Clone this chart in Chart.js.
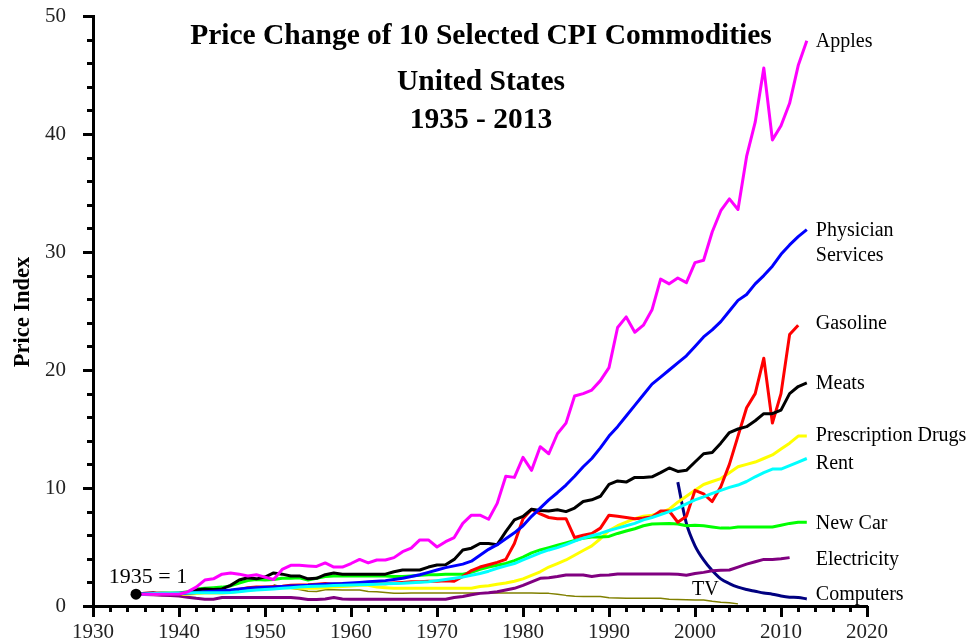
<!DOCTYPE html>
<html>
<head>
<meta charset="utf-8">
<title>Price Change of 10 Selected CPI Commodities</title>
<script src="https://cdn.jsdelivr.net/npm/chart.js@4.4.1/dist/chart.umd.min.js"></script>
<style>
  html, body { margin: 0; padding: 0; background: #fff; }
  #wrap { width: 976px; height: 643px; }
</style>
</head>
<body>
<div id="wrap"><canvas id="cpiChart" width="976" height="643"></canvas></div>
<script>
// yearly price index, 1935 = 1
const years = Array.from({ length: 79 }, (_, i) => 1935 + i);

const apples = [1, 1, 1, 1, 1, 1, 1.2, 1.6, 2.2, 2.3,
  2.7, 2.8, 2.7, 2.55, 2.65, 2.45, 2.25, 3.1, 3.45, 3.45,
  3.4, 3.35, 3.65, 3.3, 3.3, 3.6, 3.95, 3.65, 3.9, 3.9,
  4.1, 4.6, 4.9, 5.6, 5.6, 5.0, 5.45, 5.8, 7.0, 7.7,
  7.7, 7.35, 8.7, 11.0, 10.9, 12.6, 11.5, 13.5, 12.9, 14.6,
  15.5, 17.8, 18.0, 18.3, 19.1, 20.2, 23.6, 24.5, 23.2, 23.8,
  25.1, 27.7, 27.3, 27.8, 27.4, 29.1, 29.3, 31.7, 33.5, 34.5,
  33.6, 38.1, 41.0, 45.6, 39.5, 40.7, 42.6, 45.8, 47.9];

const physician = [1.0, 1.02, 1.04, 1.05, 1.06, 1.08, 1.1, 1.15, 1.2, 1.25,
  1.3, 1.35, 1.45, 1.5, 1.55, 1.58, 1.6, 1.65, 1.7, 1.72,
  1.75, 1.8, 1.85, 1.88, 1.9, 1.95, 2.0, 2.05, 2.1, 2.15,
  2.25, 2.35, 2.5, 2.65, 2.85, 3.05, 3.25, 3.4, 3.55, 3.8,
  4.3, 4.8, 5.2, 5.7, 6.2, 6.8, 7.6, 8.3, 9.0, 9.6,
  10.25, 11.0, 11.8, 12.5, 13.4, 14.4, 15.2, 16.1, 17.0, 17.9,
  18.8, 19.4, 20.0, 20.6, 21.2, 22.0, 22.8, 23.4, 24.1, 25.0,
  25.9, 26.4, 27.3, 28.0, 28.8, 29.8, 30.6, 31.3, 31.9];

// 1935 - 2012
const gasoline = [1.0, 1.08, 1.1, 1.08, 1.05, 1.05, 1.1, 1.15, 1.2, 1.2,
  1.2, 1.25, 1.4, 1.55, 1.6, 1.62, 1.65, 1.68, 1.75, 1.78,
  1.8, 1.85, 1.9, 1.85, 1.88, 1.9, 1.9, 1.9, 1.9, 1.88,
  1.95, 2.0, 2.05, 2.05, 2.1, 2.1, 2.15, 2.1, 2.5, 3.0,
  3.3, 3.5, 3.7, 3.95, 5.3, 7.4, 8.2, 7.8, 7.5, 7.4,
  7.4, 5.8, 6.0, 6.15, 6.6, 7.7, 7.6, 7.5, 7.4, 7.45,
  7.55, 8.05, 8.05, 7.1, 7.6, 9.8, 9.5, 8.85, 10.1, 12.0,
  14.4, 16.8, 18.0, 21.0, 15.5, 18.0, 23.0, 23.8];

const meats = [1.0, 1.05, 1.1, 1.0, 1.0, 1.0, 1.15, 1.35, 1.45, 1.4,
  1.45, 1.75, 2.2, 2.4, 2.3, 2.45, 2.8, 2.7, 2.55, 2.55,
  2.3, 2.35, 2.65, 2.8, 2.7, 2.7, 2.7, 2.7, 2.7, 2.7,
  2.9, 3.05, 3.05, 3.05, 3.3, 3.47, 3.5, 3.95, 4.75, 4.9,
  5.3, 5.3, 5.2, 6.3, 7.3, 7.6, 8.2, 8.1, 8.05, 8.15,
  8.0, 8.3, 8.85, 9.0, 9.3, 10.3, 10.6, 10.5, 10.9, 10.9,
  10.95, 11.3, 11.7, 11.4, 11.5, 12.2, 12.9, 13.0, 13.8, 14.7,
  15.0, 15.2, 15.7, 16.3, 16.3, 16.6, 18.0, 18.6, 18.9];

const drugs = [1.0, 1.0, 1.0, 1.0, 1.0, 1.0, 1.0, 1.05, 1.1, 1.1,
  1.1, 1.15, 1.25, 1.35, 1.4, 1.45, 1.55, 1.55, 1.55, 1.5,
  1.5, 1.5, 1.55, 1.6, 1.65, 1.7, 1.75, 1.75, 1.6, 1.55,
  1.5, 1.5, 1.5, 1.5, 1.5, 1.5, 1.5, 1.5, 1.5, 1.5,
  1.65, 1.72, 1.85, 1.95, 2.1, 2.3, 2.6, 2.9, 3.3, 3.6,
  3.9, 4.3, 4.7, 5.1, 5.7, 6.4, 6.8, 7.1, 7.4, 7.6,
  7.7, 7.9, 8.2, 8.8, 9.3, 9.8, 10.3, 10.55, 10.8, 11.3,
  11.8, 12.0, 12.2, 12.5, 12.8, 13.3, 13.8, 14.4, 14.4];

const rent = [1.0, 1.02, 1.05, 1.08, 1.08, 1.08, 1.1, 1.12, 1.12, 1.12,
  1.13, 1.15, 1.2, 1.3, 1.35, 1.4, 1.45, 1.5, 1.55, 1.6,
  1.65, 1.68, 1.7, 1.73, 1.75, 1.78, 1.8, 1.83, 1.85, 1.88,
  1.9, 1.92, 1.97, 2.02, 2.06, 2.15, 2.25, 2.35, 2.45, 2.6,
  2.75, 2.95, 3.2, 3.4, 3.6, 3.9, 4.2, 4.5, 4.75, 4.95,
  5.2, 5.5, 5.75, 5.95, 6.15, 6.4, 6.6, 6.8, 7.0, 7.3,
  7.5, 7.75, 8.0, 8.3, 8.65, 9.0, 9.25, 9.55, 9.8, 10.05,
  10.25, 10.55, 10.95, 11.3, 11.6, 11.6, 11.9, 12.2, 12.5];

const newCar = [1.0, 1.02, 1.05, 1.1, 1.1, 1.1, 1.2, 1.45, 1.5, 1.55,
  1.6, 1.7, 1.95, 2.15, 2.25, 2.2, 2.25, 2.35, 2.35, 2.4,
  2.2, 2.35, 2.5, 2.55, 2.55, 2.55, 2.55, 2.55, 2.55, 2.55,
  2.5, 2.5, 2.55, 2.6, 2.65, 2.65, 2.7, 2.7, 2.7, 2.85,
  3.1, 3.3, 3.45, 3.6, 3.85, 4.15, 4.5, 4.75, 4.95, 5.15,
  5.35, 5.55, 5.75, 5.85, 5.85, 5.9, 6.15, 6.35, 6.55, 6.8,
  6.95, 6.97, 7.0, 6.95, 6.8, 6.85, 6.8, 6.7, 6.6, 6.6,
  6.7, 6.7, 6.7, 6.7, 6.7, 6.85, 7.0, 7.1, 7.1];

// 1935 - 2011
const electricity = [1.0, 0.98, 0.95, 0.92, 0.9, 0.85, 0.75, 0.65, 0.57, 0.57,
  0.72, 0.72, 0.72, 0.72, 0.72, 0.72, 0.72, 0.72, 0.72, 0.65,
  0.55, 0.55, 0.6, 0.72, 0.6, 0.57, 0.57, 0.57, 0.57, 0.57,
  0.57, 0.57, 0.57, 0.57, 0.57, 0.57, 0.57, 0.72, 0.8, 0.95,
  1.07, 1.12, 1.2, 1.35, 1.5, 1.75, 2.05, 2.35, 2.4, 2.5,
  2.62, 2.63, 2.63, 2.5, 2.6, 2.63, 2.72, 2.72, 2.72, 2.72,
  2.72, 2.72, 2.72, 2.7, 2.6, 2.75, 2.85, 2.98, 3.02, 3.05,
  3.3, 3.55, 3.75, 3.95, 3.95, 4.0, 4.1];

// 1998 - 2013
const computers = [10.5, 7.0, 5.1, 3.9, 3.0, 2.3, 1.9, 1.6, 1.4, 1.25, 1.1, 1.0, 0.85, 0.75, 0.72, 0.6];

// 1951 - 2005
const tv = [1.8, 1.6, 1.5, 1.4, 1.25, 1.22, 1.38, 1.38, 1.36, 1.36,
  1.36, 1.22, 1.2, 1.15, 1.08, 1.07, 1.1, 1.1, 1.1, 1.1,
  1.1, 1.1, 1.1, 1.1, 1.1, 1.1, 1.1, 1.1, 1.1, 1.1,
  1.1, 1.08, 1.07, 1.0, 0.9, 0.82, 0.8, 0.8, 0.8, 0.7,
  0.68, 0.66, 0.66, 0.66, 0.66, 0.65, 0.58, 0.55, 0.52, 0.5,
  0.5, 0.4, 0.32, 0.28, 0.18];

// end labels and the value each one sits at
const endLabels = [['Apples'], ['Physician', 'Services'], ['Gasoline'], ['Meats'],
  ['Prescription Drugs'], ['Rent'], ['New Car'], ['Electricity'], ['Computers']];
const endLabelValues = [47.8, 31.8, 23.9, 18.85, 14.45, 12.05, 6.95, 3.9, 0.95];

const xTicks = [1930, 1940, 1950, 1960, 1970, 1980, 1990, 2000, 2010, 2020];
const yTicks = [0, 10, 20, 30, 40, 50];

const serif = '"Liberation Serif", "Times New Roman", serif';

function pts(startYear, values) {
  return values.map((v, i) => ({ x: startYear + i, y: v }));
}

function series(data, color, width) {
  return { data: data, borderColor: color, backgroundColor: color, borderWidth: width || 3, pointRadius: 0, fill: false };
}

const decorations = {
  id: 'decorations',
  afterDraw(chart) {
    const { ctx, scales: { x, y } } = chart;
    ctx.save();

    // major and minor ticks, every 2 units
    ctx.strokeStyle = '#000';
    ctx.lineWidth = 3;
    ctx.beginPath();
    for (let yr = xTicks[0]; yr <= xTicks[xTicks.length - 1]; yr += 2) {
      const px = Math.round(x.getPixelForValue(yr)) + 0.5;
      const len = yr % 10 === 0 ? 11 : 6;
      ctx.moveTo(px, y.bottom);
      ctx.lineTo(px, y.bottom + len);
    }
    for (let v = yTicks[0]; v <= yTicks[yTicks.length - 1]; v += 2) {
      const py = Math.round(y.getPixelForValue(v)) + 0.5;
      const len = v % 10 === 0 ? 10 : 6;
      ctx.moveTo(x.left, py);
      ctx.lineTo(x.left - len, py);
    }
    ctx.stroke();

    // title block
    ctx.fillStyle = '#000';
    ctx.textAlign = 'center';
    ctx.textBaseline = 'alphabetic';
    ctx.font = 'bold 29.5px ' + serif;
    ctx.fillText('Price Change of 10 Selected CPI Commodities', 481, 44);
    ctx.fillText('United States', 481, 90);
    ctx.fillText('1935 - 2013', 481, 128);

    // y axis title
    ctx.save();
    ctx.translate(23, 312);
    ctx.rotate(-Math.PI / 2);
    ctx.font = 'bold 22.5px ' + serif;
    ctx.textBaseline = 'middle';
    ctx.fillText('Price Index', 0, 0);
    ctx.restore();

    // series names at the right end
    ctx.font = '20px ' + serif;
    ctx.textAlign = 'left';
    ctx.textBaseline = 'middle';
    const lx = x.getPixelForValue(2013) + 9;
    endLabels.forEach((lines, i) => {
      const ly = y.getPixelForValue(endLabelValues[i]);
      lines.forEach((t, j) => ctx.fillText(t, lx, ly + j * 25));
    });

    // TV and base-year notes
    ctx.textAlign = 'center';
    ctx.fillText('TV', x.getPixelForValue(2001.2), y.getPixelForValue(1.35));
    ctx.font = '22px ' + serif;
    ctx.fillText('1935 = 1', x.getPixelForValue(1936.4), y.getPixelForValue(2.45));

    ctx.restore();
  }
};

const ctx = document.getElementById('cpiChart').getContext('2d');
const cpiChart = new Chart(ctx, {
  type: 'line',
  data: {
    datasets: [
      { data: [{ x: 1935, y: 1 }], showLine: false, pointRadius: 5.5, pointBackgroundColor: '#000', pointBorderWidth: 0 },
      series(pts(1935, apples), '#ff00ff'),
      series(pts(1935, rent), '#00ffff'),
      series(pts(1935, physician), '#0000ff'),
      series(pts(1935, meats), '#000000'),
      series(pts(1935, gasoline), '#ff0000'),
      series(pts(1935, newCar), '#00ff00'),
      series(pts(1935, drugs), '#ffff00'),
      series(pts(1935, electricity), '#800080'),
      Object.assign(series(pts(1998, computers), '#000080'), { tension: 0.35 }),
      series(pts(1951, tv), '#808000', 1.5)
    ]
  },
  options: {
    responsive: false,
    animation: false,
    layout: { padding: { top: 16, right: 109, left: 0, bottom: 0 } },
    plugins: { legend: { display: false }, tooltip: { enabled: false } },
    elements: { line: { tension: 0, borderJoinStyle: 'round', borderCapStyle: 'butt' } },
    scales: {
      x: {
        type: 'linear',
        min: 1930,
        max: 2020,
        grid: { display: false },
        border: { display: true, color: '#000', width: 3 },
        afterBuildTicks: s => { s.ticks = xTicks.map(v => ({ value: v })); },
        afterFit: s => { s.height = 37; s.paddingLeft = 0; s.paddingRight = 0; },
        ticks: {
          color: '#222',
          font: { family: serif, size: 21 },
          padding: 6,
          maxRotation: 0,
          autoSkip: false,
          callback: v => String(v)
        }
      },
      y: {
        type: 'linear',
        min: 0,
        max: 50,
        grid: { display: false },
        border: { display: true, color: '#000', width: 3 },
        afterBuildTicks: s => { s.ticks = yTicks.map(v => ({ value: v })); },
        afterFit: s => { s.width = 93; s.paddingTop = 0; s.paddingBottom = 0; },
        ticks: {
          color: '#222',
          font: { family: serif, size: 21 },
          padding: 19,
          callback: v => String(v)
        }
      }
    }
  },
  plugins: [decorations]
});
</script>
</body>
</html>
